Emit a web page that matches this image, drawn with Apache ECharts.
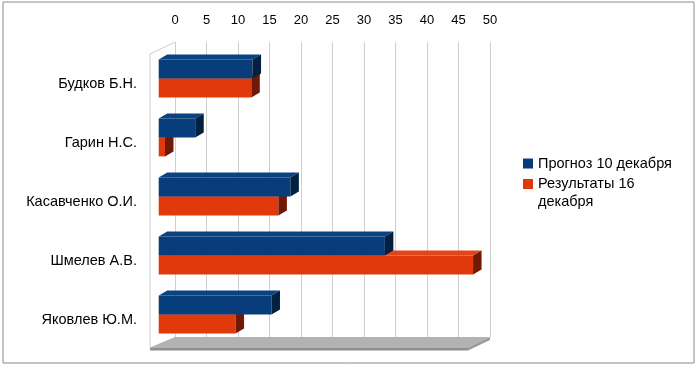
<!DOCTYPE html>
<html><head><meta charset="utf-8">
<script src="https://cdn.jsdelivr.net/npm/echarts@6/dist/echarts.min.js"></script>
<style>html,body{margin:0;padding:0;background:#fff}#c{width:700px;height:368px}</style>
</head><body><div id="c"></div>
<script>
const categories = ['Будков Б.Н.', 'Гарин Н.С.', 'Касавченко О.И.', 'Шмелев А.В.', 'Яковлев Ю.М.'];
const seriesNames = ['Прогноз 10 декабря', 'Результаты 16 декабря'];
const forecast = [14.9, 5.8, 20.9, 35.9, 17.9];
const results = [14.7, 1.0, 19.0, 49.9, 12.2];

const FONT = '"Liberation Sans", Arial, sans-serif';
const DX = -16.3, DY = 7, CX = 8.5, CY = 5;

function makeRender(upper, colors) {
  return function (params, api) {
    const v = api.value(0), c = api.value(1);
    const p0 = api.coord([0, c]);
    const p1 = api.coord([v, c]);
    const band = api.size([0, 1])[1];
    const h = band * 0.32;
    const x0 = p0[0] + DX, x1 = p1[0] + DX;
    const y0 = upper ? p0[1] + DY - h : p0[1] + DY;
    return {
      type: 'group',
      children: [
        { type: 'polygon', shape: { points: [[x0, y0], [x1, y0], [x1 + CX, y0 - CY], [x0 + CX, y0 - CY]] },
          style: { fill: colors.top } },
        { type: 'rect', shape: { x: x0, y: y0, width: x1 - x0, height: h },
          style: { fill: colors.front } },
        { type: 'polygon', shape: { points: [[x1, y0], [x1 + CX, y0 - CY], [x1 + CX, y0 + h - CY], [x1, y0 + h]] },
          style: { fill: colors.side } }
      ]
    };
  };
}

const chart = echarts.init(document.getElementById('c'), null, { renderer: 'canvas' });
chart.setOption({
  animation: false,
  textStyle: { fontFamily: FONT },
  grid: { left: 175, right: 210, top: 42, bottom: 31 },
  xAxis: {
    type: 'value', position: 'top', min: 0, max: 50, interval: 5,
    axisLine: { show: false }, axisTick: { show: false },
    axisLabel: { fontSize: 13, color: '#000', margin: 15, fontFamily: FONT },
    splitLine: { show: true, lineStyle: { color: '#cfcfcf', width: 1 } }
  },
  yAxis: {
    type: 'category', data: categories, inverse: true,
    axisLine: { show: false }, axisTick: { show: false },
    axisLabel: { fontSize: 14.5, color: '#000', margin: 38, lineHeight: 24, fontFamily: FONT,
      formatter: function (v) { return '\n' + v; } },
    splitLine: { show: false }
  },
  legend: [
    { data: [seriesNames[0]], left: 518, top: 151, orient: 'vertical', icon: 'rect', itemWidth: 10, itemHeight: 10,
      textStyle: { fontSize: 14.5, color: '#000', fontFamily: FONT }, selectedMode: false },
    { data: [seriesNames[1]], left: 518, top: 152, orient: 'vertical', icon: 'rect', itemWidth: 10, itemHeight: 10,
      formatter: function (n) { return '\nРезультаты 16\nдекабря'; },
      textStyle: { fontSize: 14.5, color: '#000', lineHeight: 18, fontFamily: FONT }, selectedMode: false }
  ],
  graphic: [
    { type: 'rect', shape: { x: 3, y: 2, width: 691, height: 361 }, style: { fill: 'none', stroke: '#8a8a8a', lineWidth: 1 }, z: -10 },
    { type: 'polyline', shape: { points: [[150, 347], [150, 54], [175, 42]] }, style: { fill: 'none', stroke: '#cfcfcf', lineWidth: 1 }, z: -5 },
    { type: 'polygon', shape: { points: [[175, 337], [490, 337], [468, 347.5], [150, 347.5]] }, style: { fill: '#b2b2b2' }, z: -4 },
    { type: 'polygon', shape: { points: [[150, 347.5], [468, 347.5], [468, 350.5], [150, 350.5]] }, style: { fill: '#8e8e8e' }, z: -4 },
    { type: 'polygon', shape: { points: [[468, 347.5], [490, 337], [490, 340], [468, 350.5]] }, style: { fill: '#9a9a9a' }, z: -4 }
  ],
  series: [
    { type: 'custom', name: seriesNames[1], z: 2,
      itemStyle: { color: '#e0390c' },
      encode: { x: 0, y: 1 },
      data: results.map((v, i) => [v, i]),
      renderItem: makeRender(false, { front: '#e0390c', top: '#e3451a', side: '#701a05' }) },
    { type: 'custom', name: seriesNames[0], z: 3,
      itemStyle: { color: '#083d7b' },
      encode: { x: 0, y: 1 },
      data: forecast.map((v, i) => [v, i]),
      renderItem: makeRender(true, { front: '#083d7b', top: '#0b4281', side: '#02203f' }) }
  ]
});
</script></body></html>
